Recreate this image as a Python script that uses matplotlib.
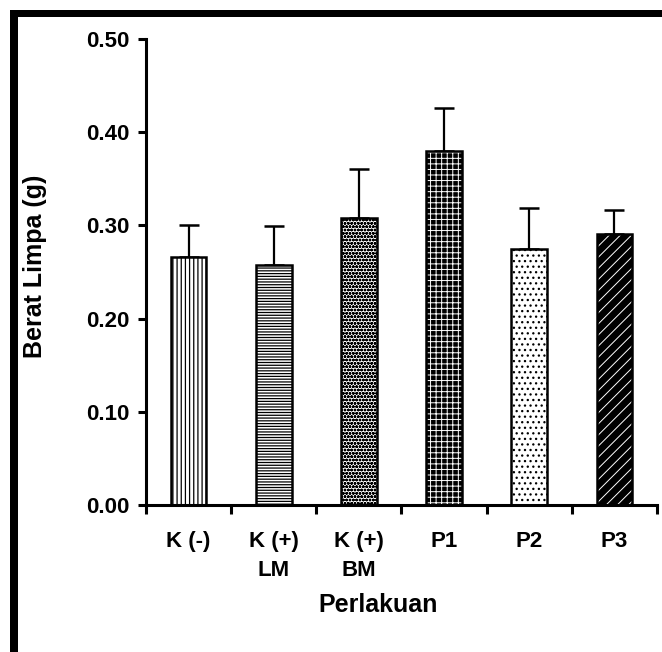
import numpy as np
import matplotlib
matplotlib.use("Agg")
import matplotlib.pyplot as plt
from matplotlib.patches import Rectangle

# data
perlakuan = ["K (-)", "K (+)\nLM", "K (+)\nBM", "P1", "P2", "P3"]
berat = [0.266, 0.258, 0.308, 0.380, 0.275, 0.291]
sd = [0.034, 0.041, 0.053, 0.046, 0.044, 0.026]
yticks = [0.00, 0.10, 0.20, 0.30, 0.40, 0.50]

# fill patterns per bar: (facecolor, hatch colour, hatch)
isian = [("white", "black", "||||"),
         ("white", "black", "------"),
         ("white", "black", "ooooo"),
         ("black", "white", "+++"),
         ("white", "black", "..."),
         ("black", "white", "///")]

plt.rcParams['font.family'] = ['Liberation Sans', 'DejaVu Sans']
plt.rcParams['font.weight'] = 'bold'
plt.rcParams['hatch.linewidth'] = 0.9

fig = plt.figure(figsize=(6.62, 6.52), dpi=100)
ax = fig.add_axes([146/662, 147/652, 511/662, 466/652])

x = np.arange(len(perlakuan))
lebar = 0.42
for i in range(len(x)):
    fc, hc, h = isian[i]
    b = ax.bar(x[i], berat[i], width=lebar, color=fc, edgecolor=hc, hatch=h,
               linewidth=0, zorder=2)
    if fc == "black":
        for p in b:
            if hasattr(p, "set_hatch_linewidth"):
                p.set_hatch_linewidth(0.7)
ax.bar(x, berat, width=lebar, fill=False, edgecolor="black", linewidth=1.8, zorder=3)
ax.errorbar(x, berat, yerr=[np.zeros(len(sd)), sd], fmt="none", ecolor="black",
            elinewidth=1.6, capsize=7.5, capthick=1.8, zorder=1)

ax.set_xlim(-0.5, len(x) - 0.5)
ax.set_ylim(0, 0.5)
ax.set_yticks(yticks)
ax.set_yticklabels([f"{v:.2f}" for v in yticks])
ax.set_xticks(np.arange(-0.5, len(x)))
ax.set_xticklabels([])
ax.set_xticks(x, minor=True)
ax.set_xticklabels(perlakuan, minor=True, linespacing=1.45)

ax.tick_params(axis="y", which="major", direction="out", length=6, width=2.2,
               pad=6, labelsize=16)
ax.tick_params(axis="x", which="major", direction="out", length=6.5, width=2.2)
ax.tick_params(axis="x", which="minor", length=0, pad=19, labelsize=16)

for s in ["top", "right"]:
    ax.spines[s].set_visible(False)
for s in ["left", "bottom"]:
    ax.spines[s].set_linewidth(2.2)

ax.set_ylabel("Berat Limpa (g)", fontsize=18, fontweight="bold")
ax.yaxis.set_label_coords((47 - 146) / 511, (505 - 266) / 466)
ax.set_xlabel("Perlakuan", fontsize=18, fontweight="bold")
ax.xaxis.set_label_coords((378 - 146) / 511, -(593 - 505) / 466)

# thick frame on top and left edge of the picture
fig.add_artist(Rectangle((10/662, 0), 8/662, 642/652, transform=fig.transFigure,
                         color="black", lw=0))
fig.add_artist(Rectangle((10/662, 635/652), 652/662, 7/652, transform=fig.transFigure,
                         color="black", lw=0))

fig.savefig("out.png", dpi=100)
